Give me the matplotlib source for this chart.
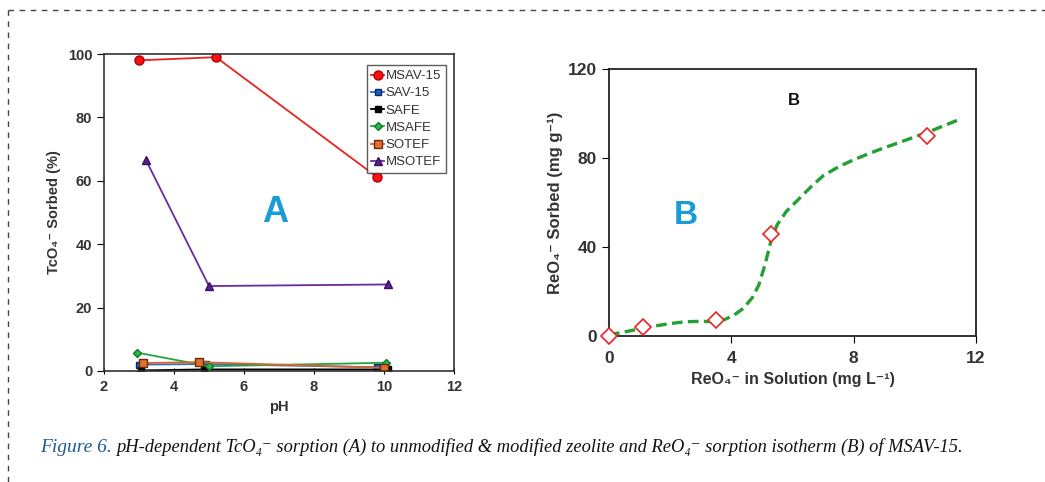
import matplotlib
matplotlib.use("Agg")
import matplotlib.pyplot as plt

SANS = ["Liberation Sans", "DejaVu Sans"]
SERIF = ["Liberation Serif", "DejaVu Serif"]
plt.rcParams["font.family"] = SANS

# Panel A: pH-dependent TcO4- sorption
series_names = ["MSAV-15", "SAV-15", "SAFE", "MSAFE", "SOTEF", "MSOTEF"]
ph_values = {
    "MSAV-15": [3.0, 5.2, 9.8],
    "SAV-15": [3.0, 4.9, 9.8],
    "SAFE": [3.05, 4.85, 10.1],
    "MSAFE": [2.95, 5.0, 10.05],
    "SOTEF": [3.1, 4.7, 10.0],
    "MSOTEF": [3.2, 5.0, 10.1],
}
sorbed_pct = {
    "MSAV-15": [98.0, 99.0, 61.2],
    "SAV-15": [2.0, 2.2, 1.2],
    "SAFE": [0.2, 0.5, 0.5],
    "MSAFE": [5.8, 1.5, 2.6],
    "SOTEF": [2.5, 2.8, 1.0],
    "MSOTEF": [66.5, 26.8, 27.3],
}
styles = {
    "MSAV-15": dict(color="#e8231f", marker="o", mfc="#ff1010", mec="#b00000", ms=6.5),
    "SAV-15": dict(color="#2f6fc0", marker="s", mfc="#1560c8", mec="#0a2a60", ms=5),
    "SAFE": dict(color="#000000", marker="s", mfc="#000000", mec="#000000", ms=5),
    "MSAFE": dict(color="#22a540", marker="D", mfc="#2cb84a", mec="#117a2a", ms=4),
    "SOTEF": dict(color="#d9632a", marker="s", mfc="#e07030", mec="#6a2a08", ms=5.5),
    "MSOTEF": dict(color="#6a2aa0", marker="^", mfc="#5a2090", mec="#3a1060", ms=6),
}

# Panel B: ReO4- sorption isotherm
conc_obs = [0.0, 1.1, 3.5, 5.3, 10.4]
sorbed_obs = [0.0, 4.0, 7.0, 46.0, 90.0]
conc_fit = [0.0, 0.5, 1.0, 1.5, 2.0, 2.5, 3.0, 3.5, 3.8, 4.1, 4.4, 4.7, 4.9, 5.1,
            5.3, 5.5, 5.8, 6.2, 6.6, 7.0, 7.5, 8.0, 8.5, 9.0, 9.5, 10.0, 10.5, 11.0, 11.4]
sorbed_fit = [0.5, 1.8, 3.2, 4.5, 5.6, 6.4, 6.6, 6.4, 7.5, 9.5, 12.5, 17.5, 23.0, 32.0,
              43.0, 50.0, 56.0, 61.5, 67.0, 72.0, 76.0, 79.2, 82.0, 84.6, 87.0, 89.5, 92.0, 94.8, 97.0]

fig = plt.figure(figsize=(10.45, 4.82), dpi=100)
W, H = 1045, 482

# dashed frame
fig.add_artist(plt.Line2D([8 / W, 1.0], [1 - 10 / H, 1 - 10 / H], transform=fig.transFigure,
                          color="#444444", lw=1.0, ls=(0, (4, 4))))
fig.add_artist(plt.Line2D([8 / W, 8 / W], [0.0, 1 - 10 / H], transform=fig.transFigure,
                          color="#444444", lw=1.0, ls=(0, (4, 4))))

# ---- panel A ----
axA = fig.add_axes([104 / W, 1 - 371 / H, 350 / W, 317 / H])
for name in series_names:
    st = styles[name]
    axA.plot(ph_values[name], sorbed_pct[name], color=st["color"], lw=1.3,
             marker=st["marker"], mfc=st["mfc"], mec=st["mec"], ms=st["ms"], label=name)
axA.set_xlim(2, 12)
axA.set_ylim(0, 100)
axA.set_xticks([2, 4, 6, 8, 10, 12])
axA.set_yticks([0, 20, 40, 60, 80, 100])
axA.tick_params(axis="x", direction="inout", length=5, labelsize=10.5, pad=4)
axA.tick_params(axis="y", direction="out", length=5, labelsize=10.5)
for lbl in axA.get_xticklabels() + axA.get_yticklabels():
    lbl.set_fontweight("bold")
    lbl.set_color("#333333")
for sp in axA.spines.values():
    sp.set_color("#333333")
    sp.set_linewidth(1.2)
axA.set_xlabel("pH", fontsize=10.5, fontweight="bold", color="#333333", labelpad=4)
axA.set_ylabel("TcO\u2084\u207b Sorbed (%)", fontsize=10.5, fontweight="bold",
               color="#333333", labelpad=5)
axA.text(6.9, 50, "A", fontsize=26, fontweight="bold", color="#1a9bd7",
         ha="center", va="center")
leg = axA.legend(loc="upper right", fontsize=9.5, handlelength=1.0, handletextpad=0.1,
                 borderpad=0.35, labelspacing=0.38, frameon=True, fancybox=False,
                 bbox_to_anchor=(0.995, 0.985))
leg.get_frame().set_edgecolor("#333333")
leg.get_frame().set_linewidth(1.0)
for t in leg.get_texts():
    t.set_color("#333333")

# ---- panel B ----
axB = fig.add_axes([609 / W, 1 - 336 / H, 367 / W, 267 / H])
axB.plot(conc_fit, sorbed_fit, color="#22a030", lw=2.4, ls=(0, (3.2, 1.6)))
axB.plot(conc_obs, sorbed_obs, ls="none", marker="D", ms=8, mfc="white",
         mec="#ee2222", mew=1.2, clip_on=False, zorder=5)
axB.set_xlim(0, 12)
axB.set_ylim(0, 120)
axB.set_xticks([0, 4, 8, 12])
axB.set_yticks([0, 40, 80, 120])
axB.tick_params(axis="both", direction="out", length=5, labelsize=12.5)
axB.tick_params(axis="x", pad=6)
for lbl in axB.get_xticklabels() + axB.get_yticklabels():
    lbl.set_fontweight("bold")
    lbl.set_color("#333333")
for sp in axB.spines.values():
    sp.set_color("#222222")
    sp.set_linewidth(1.3)
axB.set_xlabel("ReO\u2084\u207b in Solution (mg L\u207b\u00b9)", fontsize=11.5,
               fontweight="bold", color="#333333", labelpad=4)
axB.set_ylabel("ReO\u2084\u207b Sorbed (mg g\u207b\u00b9)", fontsize=12,
               fontweight="bold", color="#333333", labelpad=4)
axB.text(2.5, 54, "B", fontsize=24, fontweight="bold", color="#1a9bd7",
         ha="center", va="center")
axB.text(6.05, 106, "B", fontsize=12, fontweight="bold", color="#111111",
         ha="center", va="center")

# ---- caption ----
cap1 = fig.text(40 / W, 1 - 447 / H, "Figure 6.", fontsize=14, style="italic",
                color="#1f5a95", family=SERIF, va="center")
fig.canvas.draw()
bb = cap1.get_window_extent(fig.canvas.get_renderer())
fig.text(bb.x1 / W + 4 / W, 1 - 447 / H,
         "pH-dependent TcO\u2084\u207b sorption (A) to unmodified & modified zeolite "
         "and ReO\u2084\u207b sorption isotherm (B) of MSAV-15.",
         fontsize=13.3, style="italic", color="#111111", family=SERIF, va="center")

fig.savefig("out.png", dpi=100)
